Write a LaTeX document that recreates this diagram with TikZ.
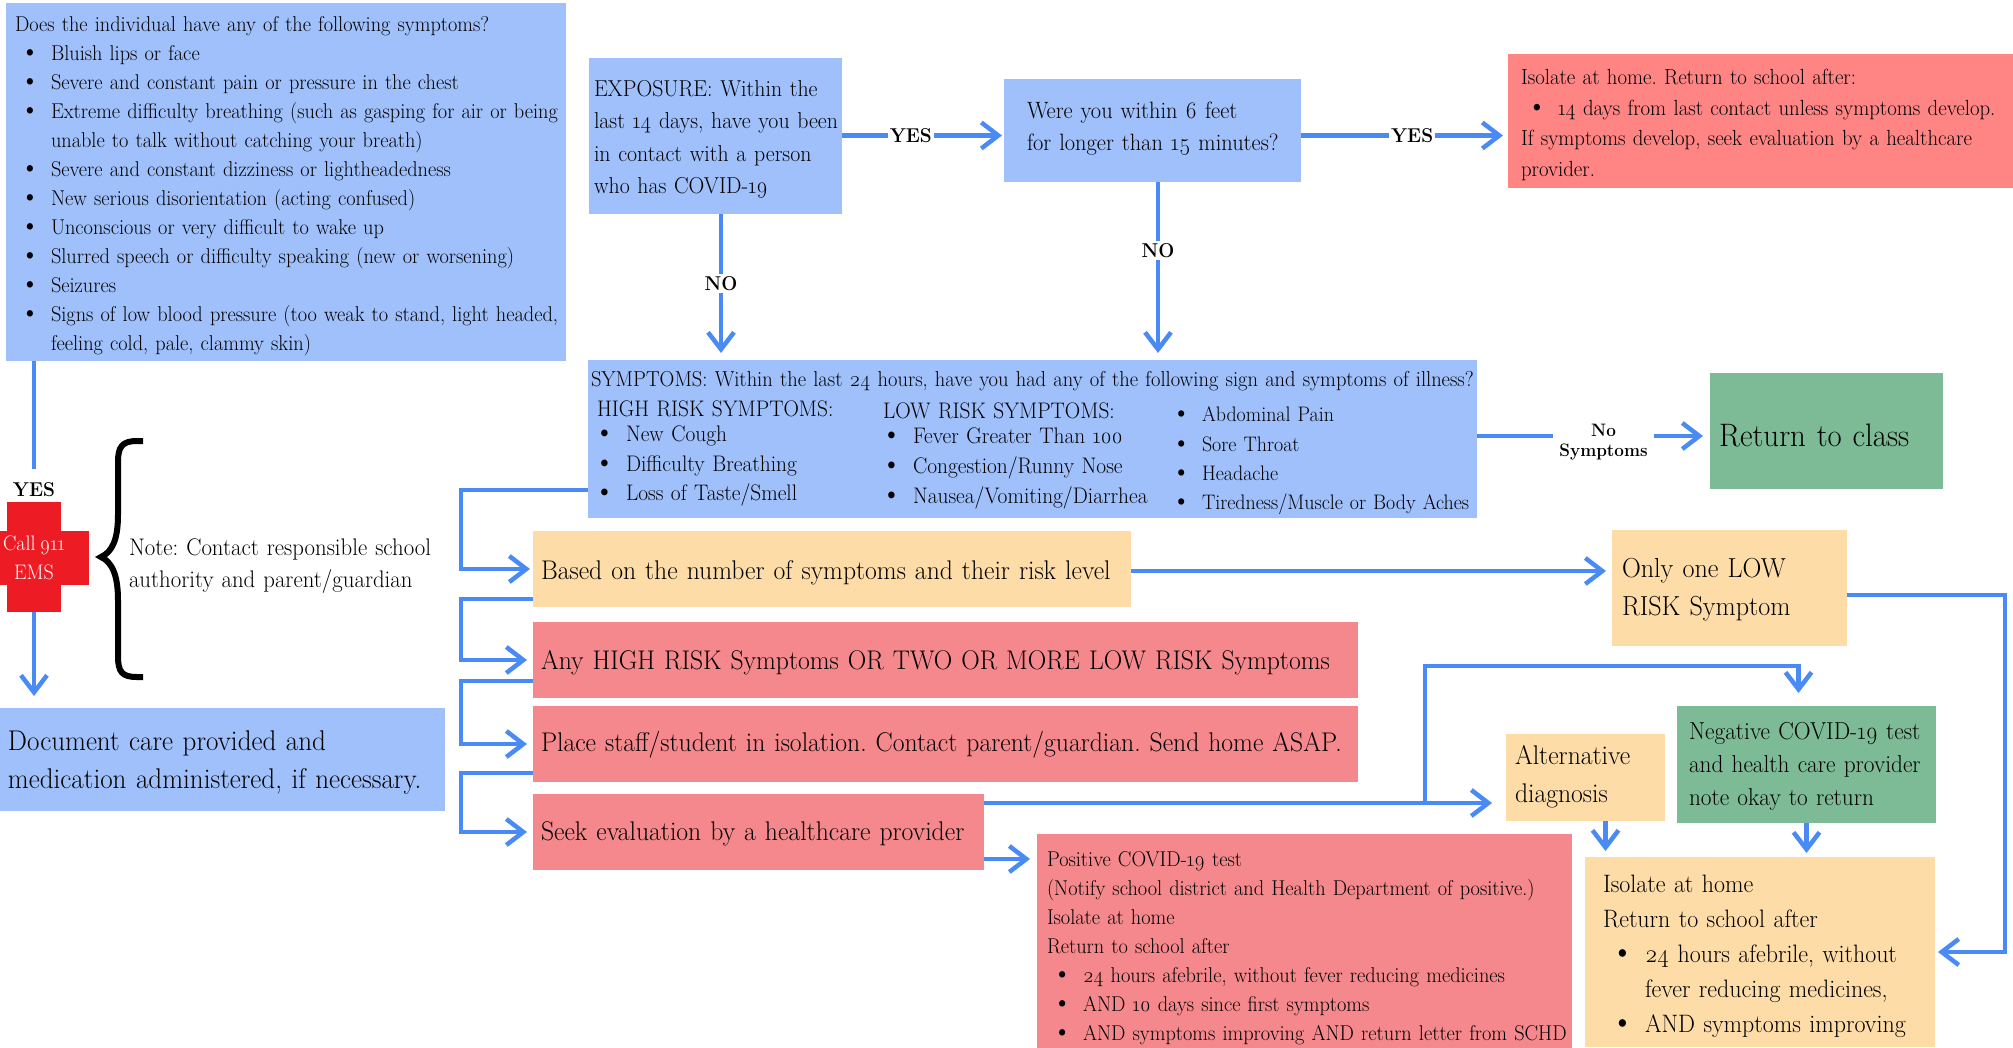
\documentclass[tikz,border=0pt]{standalone}
\usepackage{fontspec}
\setmainfont{Latin Modern Roman}[FakeStretch=0.95,WordSpace=0.72,Numbers=OldStyle]
\usetikzlibrary{arrows.meta,calc}
\definecolor{cblue}{HTML}{9FC0FA}
\definecolor{corange}{HTML}{FDDCA7}
\definecolor{cred}{HTML}{F5888C}
\definecolor{cbright}{HTML}{FF8585}
\definecolor{cgreen}{HTML}{7CBB96}
\definecolor{ccross}{HTML}{ED1C24}
\definecolor{cline}{HTML}{4A8AF4}
\newlength{\bulind}
\frenchspacing
\newcommand{\fs}[2]{\fontsize{#1pt}{#2pt}\selectfont}
\newcommand{\bit}[1]{\hspace*{\bulind}\llap{\scalebox{1.35}{\textbullet}\hspace{11pt}}\mbox{#1}}
\newcommand{\cont}[1]{\hspace*{\bulind}\mbox{#1}}
\newcommand{\dn}[1]{\rule{0pt}{\dimexpr0.8em+#1pt\relax}}
\newcommand{\up}[1]{\par\vspace*{#1pt}}
\tikzset{
  x=1pt,y=-1pt,
  boxn/.style={anchor=north west,align=left,inner ysep=0pt,inner xsep=5pt,text=black,outer sep=0pt},
  blue box/.style={boxn,fill=cblue},
  orange box/.style={boxn,fill=corange},
  red box/.style={boxn,fill=cred},
  bright box/.style={boxn,fill=cbright},
  green box/.style={boxn,fill=cgreen},
  plain text/.style={anchor=north west,align=left,inner sep=0pt,outer sep=0pt,text=black},
  conn/.style={draw=cline,line width=4.5pt,line join=miter},
  arr/.style={conn,-{Straight Barb[length=17pt,width=26pt,line width=4.5pt]}},
  lab/.style={font=\bfseries\fs{20}{20},fill=white,inner sep=2pt,text=black},
}
\begin{document}
\begin{tikzpicture}
\useasboundingbox (0,0) rectangle (2013,1047);
% boxes
\node[blue box,text width=542pt,inner xsep=9pt,minimum height=358pt,font=\fs{21.4}{29}] (box1) at (6,3) {\dn{6}%
\setlength{\bulind}{36pt}%
Does the individual have any of the following symptoms?\\
\bit{Bluish lips or face}\\
\bit{Severe and constant pain or pressure in the chest}\\
\bit{Extreme difficulty breathing (such as gasping for air or being}\\
\cont{unable to talk without catching your breath)}\\
\bit{Severe and constant dizziness or lightheadedness}\\
\bit{New serious disorientation (acting confused)}\\
\bit{Unconscious or very difficult to wake up}\\
\bit{Slurred speech or difficulty speaking (new or worsening)}\\
\bit{Seizures}\\
\bit{Signs of low blood pressure (too weak to stand, light headed,}\\
\cont{feeling cold, pale, clammy skin)}};
\node[blue box,text width=243pt,minimum height=156pt,font=\fs{23}{32.5}] (expo) at (589,58) {\dn{4}EXPOSURE: Within the\\\mbox{last 14 days, have you been}\\in contact with a person\\who has COVID-19};
\node[blue box,text width=251pt,inner xsep=23pt,minimum height=103pt,font=\fs{23.6}{32.5}] (within) at (1004,79) {Were you within 6 feet\\\mbox{for longer than 15 minutes?}\up{4}};
\node[bright box,text width=480pt,inner xsep=13pt,minimum height=134pt,font=\fs{21.9}{30.5}] (iso1) at (1508,54) {\dn{6}%
\setlength{\bulind}{37pt}%
Isolate at home. Return to school after:\\
\bit{14 days from last contact unless symptoms develop.}\\
If symptoms develop, seek evaluation by a healthcare\\provider.};
\node[blue box,text width=883pt,inner xsep=3pt,minimum height=158pt] (symp) at (588,360) {};
\node[plain text,text width=890pt,font=\fs{21.6}{29}] (sympt) at (591,371) {SYMPTOMS: Within the last 24 hours, have you had any of the following sign and symptoms of illness?};
\node[plain text,text width=280pt,font=\fs{22.5}{29.7}] (high) at (597,401) {%
\setlength{\bulind}{29pt}%
HIGH RISK SYMPTOMS:\\[-5pt]
\bit{New Cough}\\
\bit{Difficulty Breathing}\\
\bit{Loss of Taste/Smell}};
\node[plain text,text width=310pt,font=\fs{22.5}{30}] (low) at (883,403) {%
\setlength{\bulind}{30pt}%
LOW RISK SYMPTOMS:\\[-5pt]
\bit{Fever Greater Than 100}\\
\bit{Congestion/Runny Nose}\\
\bit{Nausea/Vomiting/Diarrhea}};
\node[plain text,text width=270pt,font=\fs{21}{29.3}] (low2) at (1202,407) {%
\setlength{\bulind}{0pt}%
\bit{Abdominal Pain}\\
\bit{Sore Throat}\\
\bit{Headache}\\
\bit{Tiredness/Muscle or Body Aches}};
\node[green box,text width=215pt,inner xsep=9pt,minimum height=116pt,font=\fs{32.5}{38}] (ret) at (1710,373) {\dn{6}Return to class};
\node[orange box,text width=582pt,inner xsep=8pt,minimum height=76pt,font=\fs{27}{38}] (based) at (533,531) {\dn{5}Based on the number of symptoms and their risk level};
\node[orange box,text width=215pt,inner xsep=10pt,minimum height=116pt,font=\fs{27.5}{38}] (one) at (1612,530) {\dn{0}Only one LOW\\RISK Symptom};
\node[red box,text width=809pt,inner xsep=8pt,minimum height=76pt,font=\fs{27}{38}] (any) at (533,622) {\dn{2}Any HIGH RISK Symptoms OR TWO OR MORE LOW RISK Symptoms};
\node[red box,text width=809pt,inner xsep=8pt,minimum height=76pt,font=\fs{27}{38}] (place) at (533,706) {\dn{1}Place staff/student in isolation. Contact parent/guardian. Send home ASAP.};
\node[red box,text width=435pt,inner xsep=8pt,minimum height=76pt,font=\fs{27}{38}] (seek) at (533,794) {\dn{0}Seek evaluation by a healthcare provider};
\node[blue box,text width=429pt,inner xsep=8pt,minimum height=103pt,font=\fs{28.5}{38}] (doc) at (0,708) {\dn{2}Document care provided and\\medication administered, if necessary.};
\node[orange box,text width=141pt,inner xsep=9pt,minimum height=87pt,font=\fs{27}{38}] (alt) at (1506,734) {Alternative\\diagnosis\up{2}};
\node[green box,text width=235pt,inner xsep=12pt,minimum height=117pt,font=\fs{24.5}{33}] (neg) at (1677,706) {\dn{2}Negative COVID-19 test\\\mbox{and health care provider}\\note okay to return};
\node[red box,text width=515pt,inner xsep=10pt,minimum height=214pt,font=\fs{21.4}{29}] (pos) at (1037,834) {\dn{13}%
\setlength{\bulind}{36pt}%
Positive COVID-19 test\\
\mbox{(Notify school district and Health Department of positive.)}\\
Isolate at home\\
Return to school after\\
\bit{24 hours afebrile, without fever reducing medicines}\\
\bit{AND 10 days since first symptoms}\\
\bit{AND symptoms improving AND return letter from SCHD}};
\node[orange box,text width=314pt,inner xsep=18pt,minimum height=190pt,font=\fs{25.2}{35}] (iso2) at (1585,857) {\dn{6}%
\setlength{\bulind}{42pt}%
Isolate at home\\
Return to school after\\
\bit{24 hours afebrile, without}\\
\cont{fever reducing medicines,}\\
\bit{AND symptoms improving}};
% cross
\node[fill=ccross,minimum width=54pt,minimum height=110pt,inner sep=0pt,outer sep=0pt] (crossv) at (34,557) {};
\node[fill=ccross,minimum width=89pt,minimum height=54pt,inner sep=0pt,outer sep=0pt] (crossh) at (44.5,558) {};
\node[text=white,align=center,inner sep=0pt,font=\fs{21}{29}] (call) at (34,558) {Call 911\\EMS};
\node[font=\bfseries\fs{20}{20},inner sep=0pt,text=black] (yes0) at (34,490) {YES};
\node[plain text,text width=330pt,font=\fs{24}{32},anchor=west] (note) at (129,566) {Note: Contact responsible school\\authority and parent/guardian};
% brace
\draw[line width=6pt] (143,441) -- (137,441) .. controls (122,441) and (118,447) .. (118,462) -- (118,515) .. controls (118,540) and (112,552) .. (101,557) .. controls (112,562) and (118,575) .. (118,600) -- (118,656) .. controls (118,672) and (122,677) .. (137,677) -- (143,677);
% connectors
\draw[conn] (box1.south -| yes0.north) -- ([yshift=14pt]yes0.north);
\draw[arr] (crossv.south) -- ([yshift=12pt]doc.north -| crossv.south);
\draw[arr] ([yshift=-5pt]expo.east |- within.west) -- node[lab,pos=0.43] (yes1) {YES} ([xshift=-2pt,yshift=-5pt]within.west);
\draw[arr] ([yshift=-5pt]within.east) -- node[lab,pos=0.55] (yes2) {YES} ([xshift=-5pt,yshift=-5pt]iso1.west |- within.east);
\draw[arr] (expo.south -| 721,0) -- node[lab,pos=0.5] (no1) {NO} ([yshift=7pt]symp.north -| 721,0);
\draw[arr] (within.south -| 1158,0) -- node[lab,pos=0.4] (no2) {NO} ([yshift=7pt]symp.north -| 1158,0);
\draw[arr] ([yshift=3pt]symp.east) -- node[fill=white,inner xsep=6pt,inner ysep=0pt,yshift=-6pt,text=black,align=center,font=\bfseries\fs{18}{20},pos=0.56] (nosym) {No\\Symptoms} ++(226,0);
\draw[arr] ([yshift=-51pt]symp.west) -- ++(-127,0) |- ([xshift=-3pt]based.west);
\draw[arr] ([yshift=-30pt]based.west) -- ++(-72,0) |- ([xshift=-6pt]any.west);
\draw[arr] ([yshift=-21pt]any.west) -- ++(-72,0) |- ([xshift=-6pt]place.west);
\draw[arr] ([yshift=-29pt]place.west) -- ++(-72,0) |- ([xshift=-6pt]seek.west);
\draw[arr] ([yshift=-2pt]based.east) -- ++(475,0);
\draw[arr] ([yshift=-7pt]one.east) -| ([xshift=70pt]iso2.east) -- ([xshift=3pt]iso2.east);
\draw[arr] ([yshift=29pt]seek.east) -- ++(508,0);
\draw[arr] ([xshift=441pt,yshift=29pt]seek.east) -- ++(0,-137) -| ([xshift=-8pt,yshift=13pt]neg.north);
\draw[arr] ([yshift=-27pt]seek.east) -- ++(46,0);
\draw[arr] ([xshift=20pt]alt.south) -- ++(0,30);
\draw[arr] (neg.south) -- ++(0,30);
\end{tikzpicture}
\end{document}
